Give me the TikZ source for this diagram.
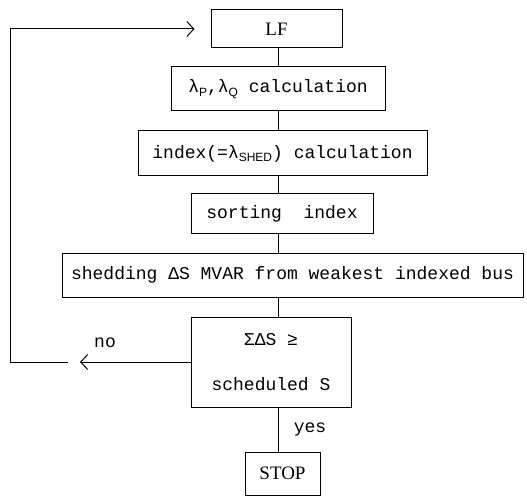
\documentclass[tikz,border=0pt]{standalone}
\usepackage{fontspec}
\setmainfont{Liberation Serif}
\setmonofont{Liberation Mono}
\setsansfont{Liberation Sans}
\usetikzlibrary{calc,arrows.meta}

\newcommand{\lsub}[1]{\raisebox{-0.35ex}{\fontsize{12}{14}\sffamily #1}}

\begin{document}
\begin{tikzpicture}[x=1pt, y=-1pt,
  block/.style={draw, line width=1pt, inner sep=0pt, font=\fontsize{18}{21}\ttfamily},
  flow/.style={line width=1pt, -{Straight Barb[length=7pt, width=15pt]}},
  link/.style={line width=1pt}]

  \useasboundingbox (0,0) rectangle (527,497);

  % Boxes
  \node[block, minimum width=131pt, minimum height=38pt, font=\fontsize{19}{21}\rmfamily] (LF) at (276.5,29) {LF};
  \node[block, minimum width=214pt, minimum height=44pt] (lam) at (278,89) {λ\lsub{P},λ\lsub{Q} calculation};
  \node[block, minimum width=289pt, minimum height=45pt] (idx) at (282.5,153.5) {index(=λ\lsub{SHED}) calculation};
  \node[block, minimum width=182pt, minimum height=39pt] (sort) at (282,213.5) {sorting~~index};
  \node[block, minimum width=461pt, minimum height=44pt] (shed) at (292.5,275) {shedding ΔS MVAR from weakest indexed bus};
  \node[block, minimum width=160pt, minimum height=90pt, align=center] (dec) at (271,362) {ΣΔS ≥\\[24pt]scheduled S};
  \node[block, minimum width=75pt, minimum height=43pt, font=\fontsize{19}{21}\rmfamily] (stop) at (282.5,473.5) {STOP};

  % Vertical links
  \draw[link] (278,0 |- LF.south) -- (278,0 |- lam.north);
  \draw[link] (278,0 |- lam.south) -- (278,0 |- idx.north);
  \draw[link] (278,0 |- idx.south) -- (278,0 |- sort.north);
  \draw[link] (278,0 |- sort.south) -- (278,0 |- shed.north);
  \draw[link] (278,0 |- shed.south) -- (278,0 |- dec.north);
  \draw[link] (278,0 |- dec.south) -- (278,0 |- stop.north);

  % Loop back
  \coordinate (notip) at (80,362);
  \coordinate (nogap) at (68,362);
  \coordinate (back) at (10,362);
  \draw[flow] (dec.west |- notip) -- (notip);
  \draw[flow, shorten >=16pt] (nogap) -- (back) |- (LF.west);

  % Labels
  \node[font=\fontsize{18}{21}\ttfamily] (no) at (105,343) {no};
  \node[font=\fontsize{18}{21}\ttfamily] (yes) at (310,430) {yes};

\end{tikzpicture}
\end{document}
